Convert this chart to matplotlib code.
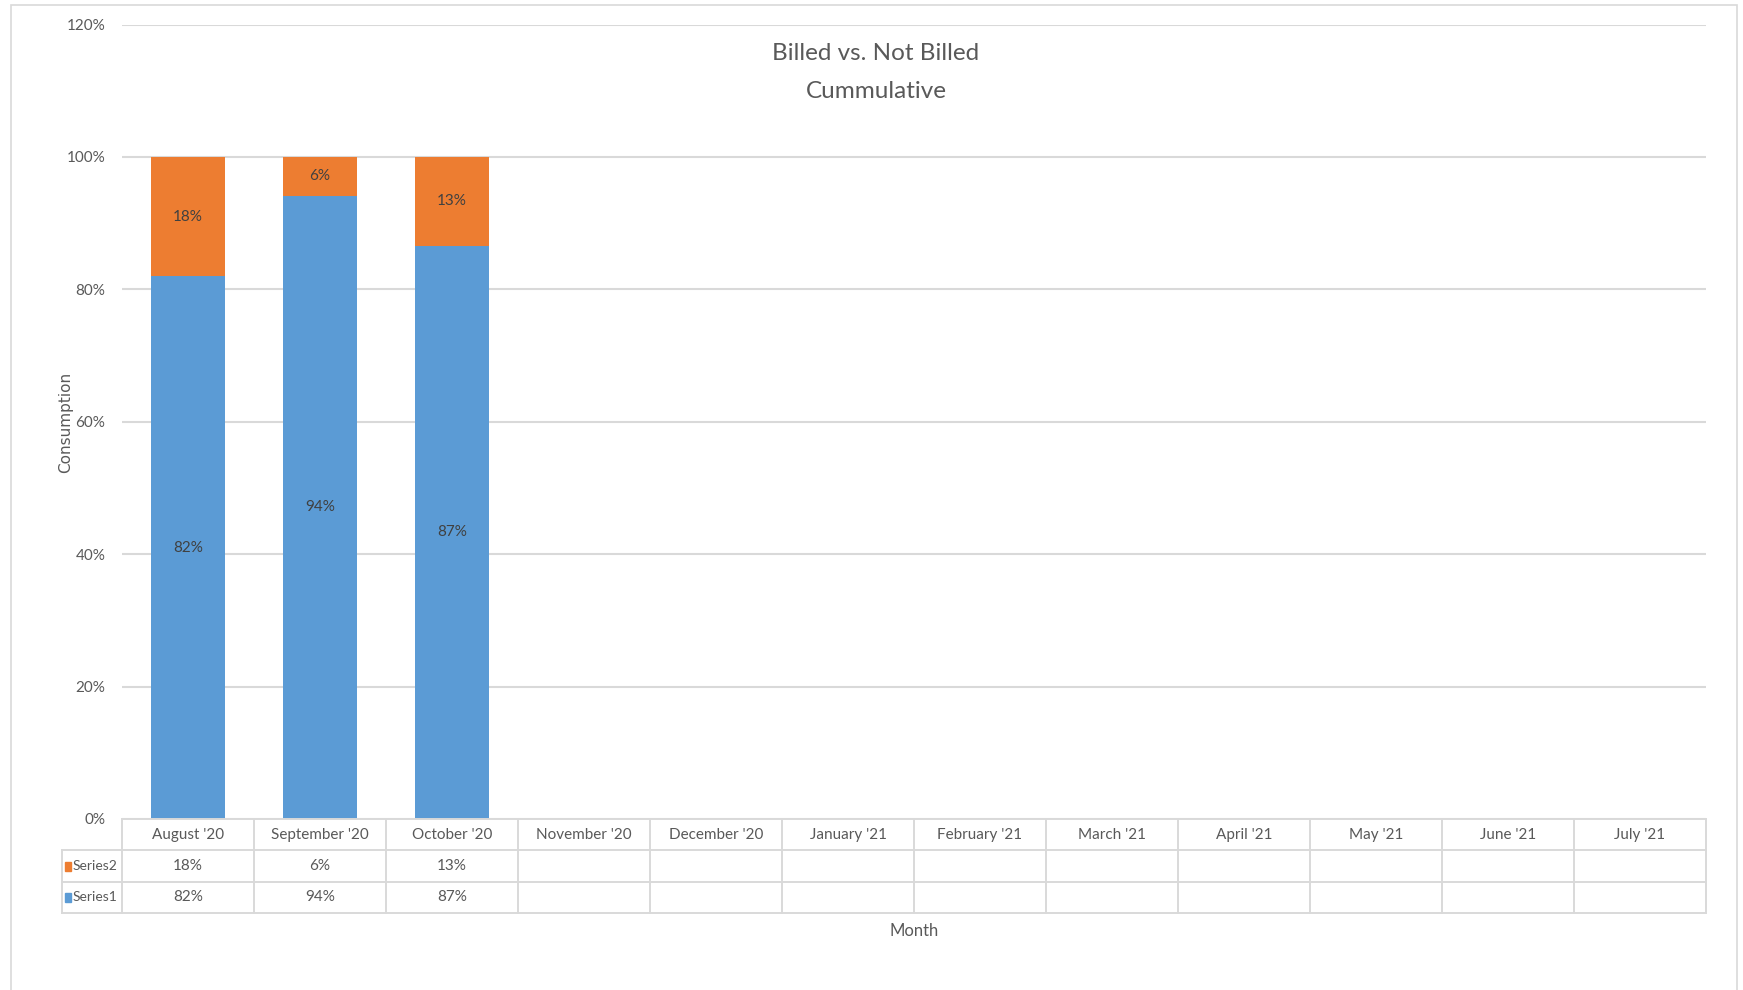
import matplotlib
matplotlib.use("Agg")
import matplotlib.pyplot as plt
from matplotlib.patches import Rectangle

months = ["August '20", "September '20", "October '20", "November '20", "December '20",
          "January '21", "February '21", "March '21", "April '21", "May '21", "June '21", "July '21"]
series1 = [0.82, 0.941, 0.866]   # Billed
series2 = [0.18, 0.059, 0.134]   # Not billed
series_names = ["Series1", "Series2"]
yticks = [0, 0.2, 0.4, 0.6, 0.8, 1.0, 1.2]
title_lines = ["Billed vs. Not Billed", "Cummulative"]
xlabel = "Month"
ylabel = "Consumption"

plt.rcParams['font.family'] = ['Lato', 'DejaVu Sans']

BLUE = "#5B9BD5"
ORANGE = "#ED7D31"
GRID = "#D9D9D9"
TXT = "#595959"
LBL = "#404040"
FS = 11

W, H = 1743, 990
fig = plt.figure(figsize=(W / 100, H / 100), dpi=100)

def px(l, t, r, b):
    return [l / W, 1 - b / H, (r - l) / W, (b - t) / H]

# outer chart border
fig.patches.append(Rectangle((11 / W, -0.01), (1737 - 11) / W, 1 - 4.5 / H + 0.01,
                             transform=fig.transFigure, fill=False, edgecolor=GRID, lw=1.2))

ax = fig.add_axes(px(122, 24.5, 1706, 819))
x = list(range(len(months)))
n = len(series1)
bw = 0.555
ax.bar(x[:n], series1, width=bw, color=BLUE, zorder=3)
ax.bar(x[:n], series2, width=bw, bottom=series1, color=ORANGE, zorder=3)
for i in range(n):
    ax.text(x[i], series1[i] / 2, f"{series1[i]:.0%}", ha="center", va="center",
            fontsize=FS, color=LBL, zorder=4)
    ax.text(x[i], series1[i] + series2[i] / 2, f"{series2[i]:.0%}", ha="center", va="center",
            fontsize=FS, color=LBL, zorder=4)

ax.set_xlim(-0.5, len(months) - 0.5)
ax.set_ylim(0, 1.2)
ax.set_yticks(yticks)
ax.set_yticklabels([f"{v:.0%}" for v in yticks], color=TXT, fontsize=FS)
ax.set_xticks([])
ax.tick_params(axis="y", length=0, pad=12)
for s in ax.spines.values():
    s.set_visible(False)
ax.yaxis.grid(True, color=GRID, lw=1.5, zorder=0)
ax.set_axisbelow(True)

fig.text(66 / W, 1 - 422 / H, ylabel, rotation=90, ha="center", va="center",
         fontsize=FS, color=TXT, family="DejaVu Sans")
fig.text(876 / W, 1 - 54 / H, title_lines[0], ha="center", va="center", fontsize=17.5, color=TXT)
fig.text(876 / W, 1 - 92 / H, title_lines[1], ha="center", va="center", fontsize=17.5, color=TXT)

# data table below
leg_w = 60 / 132
tax = fig.add_axes(px(62, 819, 1706, 913))
tax.set_xlim(-0.5 - leg_w, len(months) - 0.5)
tax.set_ylim(3, 0)
tax.axis("off")
lw = 1.4
tax.plot([-0.5, len(months) - 0.5], [0, 0], color=GRID, lw=lw, clip_on=False)
for r in (1, 2, 3):
    tax.plot([-0.5 - leg_w, len(months) - 0.5], [r, r], color=GRID, lw=lw, clip_on=False)
for c in range(len(months) + 1):
    tax.plot([c - 0.5, c - 0.5], [0, 3], color=GRID, lw=lw, clip_on=False)
tax.plot([-0.5 - leg_w, -0.5 - leg_w], [1, 3], color=GRID, lw=lw, clip_on=False)

for i, m in enumerate(months):
    tax.text(i, 0.5, m, ha="center", va="center", fontsize=FS, color=TXT)
rows = [(series_names[1], series2, ORANGE), (series_names[0], series1, BLUE)]
for r, (name, vals, col) in enumerate(rows, start=1):
    tax.add_patch(Rectangle((-0.5 - leg_w + 0.025, r + 0.36), 0.045, 0.3, color=col, clip_on=False))
    tax.text(-0.5 - leg_w + 0.08, r + 0.5, name, ha="left", va="center", fontsize=10, color=TXT)
    for i, v in enumerate(vals):
        tax.text(i, r + 0.5, f"{v:.0%}", ha="center", va="center", fontsize=FS, color=TXT)

fig.text(914 / W, 1 - 931 / H, xlabel, ha="center", va="center", fontsize=12, color=TXT)

fig.savefig("out.png", dpi=100, facecolor="white")
